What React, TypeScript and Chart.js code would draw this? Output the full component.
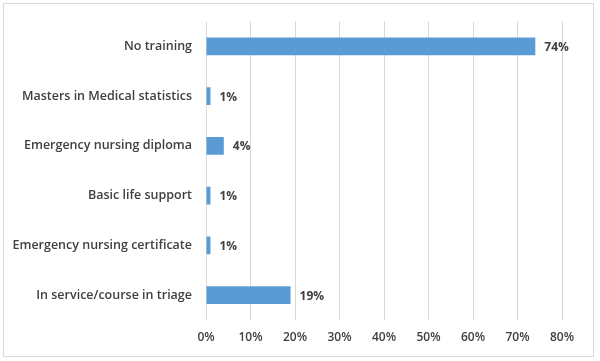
import React, { useEffect, useRef } from "react";
import { Chart, registerables } from "chart.js";

Chart.register(...registerables);

const categories = [
  "No training",
  "Masters in Medical statistics",
  "Emergency nursing diploma",
  "Basic life support",
  "Emergency nursing certificate",
  "In service/course in triage",
];
const values = [74, 1, 4, 1, 1, 19];
const valueLabels = ["74%", "1%", "4%", "1%", "1%", "19%"];
const tickValues = [0, 10, 20, 30, 40, 50, 60, 70, 80];

const FONT = "'Open Sans', sans-serif";
const TEXT = "#404040";

const valueLabelPlugin = {
  id: "valueLabels",
  afterDatasetsDraw(chart: any) {
    const ctx = chart.ctx;
    const meta = chart.getDatasetMeta(0);
    ctx.save();
    ctx.font = `bold 12px ${FONT}`;
    ctx.fillStyle = TEXT;
    ctx.textAlign = "left";
    ctx.textBaseline = "middle";
    meta.data.forEach((el: any, i: number) => {
      ctx.fillText(valueLabels[i], el.x + 9, el.y + 1);
    });
    ctx.restore();
  },
};

export default function App() {
  const ref = useRef<HTMLCanvasElement>(null);
  useEffect(() => {
    if (!ref.current) return;
    const chart = new Chart(ref.current, {
      type: "bar",
      data: {
        labels: categories,
        datasets: [
          {
            data: values,
            backgroundColor: "#5b9bd5",
            borderWidth: 0,
            barPercentage: 1,
            categoryPercentage: 0.36,
          },
        ],
      },
      options: {
        indexAxis: "y",
        animation: false,
        responsive: false,
        maintainAspectRatio: false,
        layout: { padding: { left: 0, right: 38, top: 21, bottom: 0 } },
        plugins: {
          legend: { display: false },
          tooltip: { enabled: false },
        },
        scales: {
          x: {
            min: 0,
            max: 80,
            afterBuildTicks(scale: any) {
              scale.ticks = tickValues.map((v) => ({ value: v }));
            },
            afterFit(scale: any) {
              scale.height = 41;
            },
            ticks: {
              padding: 10,
              color: TEXT,
              font: { family: FONT, size: 12, weight: "600" },
              callback: (v: any) => `${v}%`,
            },
            grid: { color: "#d9d9d9", drawTicks: false, lineWidth: 1 },
            border: { display: false },
          },
          y: {
            afterFit(scale: any) {
              scale.width = 206;
            },
            ticks: {
              padding: 14,
              color: TEXT,
              font: { family: FONT, size: 12.5, weight: "600" },
            },
            grid: { display: false, drawTicks: false },
            border: { display: false },
          },
        },
      },
      plugins: [valueLabelPlugin],
    });
    return () => chart.destroy();
  }, []);
  return (
    <div style={{ position: "absolute", left: 0, top: 0, width: 600, height: 361, background: "#fff" }}>
      <div
        style={{
          position: "absolute",
          left: 3,
          top: 3,
          width: 589,
          height: 352,
          border: "1px solid #d9d9d9",
        }}
      />
      <canvas ref={ref} width={600} height={361} style={{ position: "absolute", left: 0, top: 0 }} />
    </div>
  );
}
